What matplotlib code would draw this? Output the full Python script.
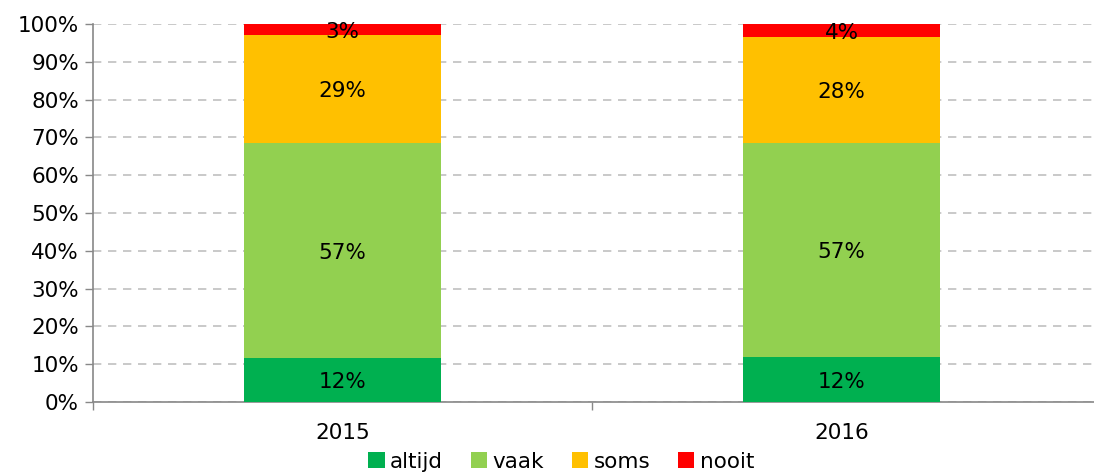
import matplotlib
matplotlib.use("Agg")
import matplotlib.pyplot as plt
import numpy as np

years = ["2015", "2016"]
series_names = ["altijd", "vaak", "soms", "nooit"]
altijd = [11.6, 12.0]
vaak = [56.9, 56.6]
soms = [28.6, 27.9]
nooit = [2.9, 3.5]
labels = [["12%", "12%"], ["57%", "57%"], ["29%", "28%"], ["3%", "4%"]]
colors = ["#00B050", "#92D050", "#FFC000", "#FF0000"]

FS = 15.5
plt.rcParams['font.family'] = ['DejaVu Sans']
fig = plt.figure(figsize=(10.94, 4.72), dpi=100)
ax = fig.add_axes([93/1094, 1-402/472, 1 - 93/1094, (402-24)/472])

x = np.arange(len(years))
bottom = np.zeros(len(years))
data = [altijd, vaak, soms, nooit]
handles = []
for i, (vals, col) in enumerate(zip(data, colors)):
    vals = np.array(vals)
    b = ax.bar(x, vals, 0.393, bottom=bottom, color=col, zorder=3, label=series_names[i])
    handles.append(b)
    for j in range(len(years)):
        ax.text(x[j], bottom[j] + vals[j] / 2 - 0.6, labels[i][j], ha='center', va='center',
                fontsize=FS, color='black', zorder=4)
    bottom += vals

ax.set_xlim(-0.5, 1.506)
ax.set_ylim(0, 100)
ax.set_yticks(np.arange(0, 101, 10))
ax.set_yticklabels([f"{v}%" for v in range(0, 101, 10)], fontsize=FS)
ax.set_xticks(x)
ax.set_xticklabels(years, fontsize=FS)
ax.set_xticks([-0.5, 0.5], minor=True)
ax.tick_params(axis='x', which='major', length=0, pad=15)
ax.tick_params(axis='x', which='minor', length=6, color='#888888', width=1)
ax.tick_params(axis='y', length=6, color='#888888', width=1, pad=4)

ax.grid(axis='y', color='#C0C0C0', linestyle=(0, (5, 4)), linewidth=1.2, zorder=0)
for s in ['top', 'right']:
    ax.spines[s].set_visible(False)
for s in ['left', 'bottom']:
    ax.spines[s].set_color('#888888')
    ax.spines[s].set_linewidth(1.2)

fig.legend(handles=handles, labels=series_names, loc='lower center',
           bbox_to_anchor=(0.513, -0.04), ncol=4, frameon=False, fontsize=FS,
           handlelength=0.75, handleheight=0.75, handletextpad=0.25, columnspacing=1.3)

fig.savefig("out.png", dpi=100)
